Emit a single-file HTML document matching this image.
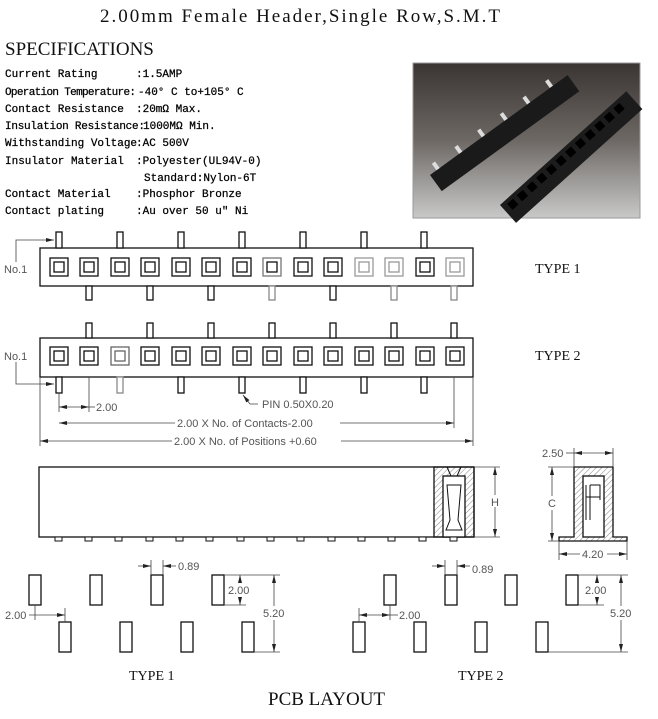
<!DOCTYPE html>
<html><head><meta charset="utf-8"><style>
html,body{margin:0;padding:0;background:#fff;width:658px;height:719px;overflow:hidden}
svg{display:block}
.s{font-family:"Liberation Mono",monospace;font-size:11px;fill:#000;stroke:#000;stroke-width:0.25}
.d{font-family:"Liberation Sans",sans-serif;font-size:11px;fill:#555}
.t{font-family:"Liberation Serif",serif;fill:#111}
</style></head><body>
<svg width="658" height="719" viewBox="0 0 658 719" xmlns="http://www.w3.org/2000/svg">
<defs>
<linearGradient id="g" x1="0" y1="0" x2="0" y2="1"><stop offset="0" stop-color="#3a3532"/><stop offset="0.5" stop-color="#6d6864"/><stop offset="1" stop-color="#c9c9c9"/></linearGradient>
<pattern id="h" width="4" height="4" patternUnits="userSpaceOnUse" patternTransform="rotate(45)"><line x1="0" y1="0" x2="0" y2="4" stroke="#666" stroke-width="0.8"/></pattern>
<marker id="a" markerWidth="8" markerHeight="6" refX="8" refY="3" orient="auto-start-reverse" markerUnits="userSpaceOnUse"><path d="M0,1 L8,3 L0,5z" fill="#222"/></marker>
</defs>
<text x="300" y="22" class="t" font-size="19" text-anchor="middle" textLength="400">2.00mm Female Header,Single Row,S.M.T</text>
<text x="5" y="55" class="t" font-size="19">SPECIFICATIONS</text>
<g class="s">
<text x="5" y="77">Current Rating</text><text x="136" y="77">:1.5AMP</text>
<text x="5" y="95" textLength="131">Operation Temperature:</text><text x="138" y="95">-40° C to+105° C</text>
<text x="5" y="112">Contact Resistance</text><text x="136" y="112">:20mΩ Max.</text>
<text x="5" y="129" textLength="140">Insulation Resistance:</text><text x="143" y="129">1000MΩ Min.</text>
<text x="5" y="146">Withstanding Voltage</text><text x="136" y="146">:AC 500V</text>
<text x="5" y="164">Insulator Material</text><text x="136" y="164">:Polyester(UL94V-0)</text>
<text x="144" y="181">Standard:Nylon-6T</text>
<text x="5" y="197">Contact Material</text><text x="136" y="197">:Phosphor Bronze</text>
<text x="5" y="214">Contact plating</text><text x="136" y="214">:Au over 50 u" Ni</text>
</g>
<rect x="413" y="63" width="227" height="155" fill="url(#g)" stroke="#999"/>
<g transform="translate(430,175) rotate(-36)"><rect x="0" y="0" width="170" height="20" fill="#1a1a1a"/><g fill="#ddd"><rect x="8" y="-8" width="4" height="8"/><rect x="36" y="-8" width="4" height="8"/><rect x="64" y="-8" width="4" height="8"/><rect x="92" y="-8" width="4" height="8"/><rect x="120" y="-8" width="4" height="8"/><rect x="148" y="-8" width="4" height="8"/></g></g>
<g transform="translate(500,205) rotate(-42)"><rect x="0" y="0" width="170" height="24" fill="#1c1c1c"/><g fill="#000"><rect x="6" y="4" width="8" height="8"/><rect x="19" y="4" width="8" height="8"/><rect x="32" y="4" width="8" height="8"/><rect x="45" y="4" width="8" height="8"/><rect x="58" y="4" width="8" height="8"/><rect x="71" y="4" width="8" height="8"/><rect x="84" y="4" width="8" height="8"/><rect x="97" y="4" width="8" height="8"/><rect x="110" y="4" width="8" height="8"/><rect x="123" y="4" width="8" height="8"/><rect x="136" y="4" width="8" height="8"/><rect x="149" y="4" width="8" height="8"/></g></g>

<g fill="#fff" stroke="#111" stroke-width="1.3">
<rect x="40" y="248" width="433" height="38"/>
<g><rect x="56" y="232" width="6" height="16"/><rect x="117" y="232" width="6" height="16"/><rect x="178" y="232" width="6" height="16"/><rect x="239" y="232" width="6" height="16"/><rect x="300" y="232" width="6" height="16"/><rect x="361" y="232" width="6" height="16"/><rect x="421" y="232" width="6" height="16"/></g>
<g><rect x="86" y="286" width="6" height="14"/><rect x="147" y="286" width="6" height="14"/><rect x="208" y="286" width="6" height="14"/><rect x="269" y="286" width="6" height="14" stroke="#888"/><rect x="330" y="286" width="6" height="14"/><rect x="391" y="286" width="6" height="14" stroke="#888"/><rect x="451" y="286" width="6" height="14" stroke="#888"/></g>
<rect x="40" y="338" width="433" height="39"/>
<g><rect x="86" y="323" width="6" height="15"/><rect x="147" y="323" width="6" height="15"/><rect x="208" y="323" width="6" height="15"/><rect x="269" y="323" width="6" height="15"/><rect x="330" y="323" width="6" height="15"/><rect x="391" y="323" width="6" height="15"/><rect x="451" y="323" width="6" height="15"/></g>
<g><rect x="56" y="377" width="6" height="16"/><rect x="117" y="377" width="6" height="16" stroke="#888"/><rect x="178" y="377" width="6" height="16"/><rect x="239" y="377" width="6" height="16"/><rect x="300" y="377" width="6" height="16"/><rect x="361" y="377" width="6" height="16"/><rect x="421" y="377" width="6" height="16"/></g>
</g>
<g fill="none" stroke="#111" stroke-width="1.3">
<rect x="50" y="258" width="18" height="18"/><rect x="54" y="262" width="10" height="10"/>
<rect x="80" y="258" width="18" height="18"/><rect x="84" y="262" width="10" height="10"/>
<rect x="111" y="258" width="18" height="18"/><rect x="115" y="262" width="10" height="10"/>
<rect x="141" y="258" width="18" height="18"/><rect x="145" y="262" width="10" height="10"/>
<rect x="172" y="258" width="18" height="18"/><rect x="176" y="262" width="10" height="10"/>
<rect x="202" y="258" width="18" height="18"/><rect x="206" y="262" width="10" height="10"/>
<rect x="233" y="258" width="18" height="18"/><rect x="237" y="262" width="10" height="10"/>
<rect x="263" y="258" width="18" height="18" stroke="#777"/><rect x="267" y="262" width="10" height="10"/>
<rect x="294" y="258" width="18" height="18"/><rect x="298" y="262" width="10" height="10"/>
<rect x="324" y="258" width="18" height="18"/><rect x="328" y="262" width="10" height="10"/>
<rect x="355" y="258" width="18" height="18" stroke="#999"/><rect x="359" y="262" width="10" height="10" stroke="#999"/>
<rect x="385" y="258" width="18" height="18" stroke="#999"/><rect x="389" y="262" width="10" height="10" stroke="#999"/>
<rect x="416" y="258" width="18" height="18"/><rect x="420" y="262" width="10" height="10"/>
<rect x="446" y="258" width="18" height="18" stroke="#999"/><rect x="450" y="262" width="10" height="10" stroke="#999"/>
</g>
<g fill="none" stroke="#111" stroke-width="1.3">
<rect x="50" y="347" width="18" height="18"/><rect x="54" y="351" width="10" height="10"/>
<rect x="80" y="347" width="18" height="18"/><rect x="84" y="351" width="10" height="10"/>
<rect x="111" y="347" width="18" height="18" stroke="#666"/><rect x="115" y="351" width="10" height="10" stroke="#666"/>
<rect x="141" y="347" width="18" height="18"/><rect x="145" y="351" width="10" height="10"/>
<rect x="172" y="347" width="18" height="18"/><rect x="176" y="351" width="10" height="10"/>
<rect x="202" y="347" width="18" height="18"/><rect x="206" y="351" width="10" height="10"/>
<rect x="233" y="347" width="18" height="18"/><rect x="237" y="351" width="10" height="10"/>
<rect x="263" y="347" width="18" height="18"/><rect x="267" y="351" width="10" height="10"/>
<rect x="294" y="347" width="18" height="18"/><rect x="298" y="351" width="10" height="10"/>
<rect x="324" y="347" width="18" height="18"/><rect x="328" y="351" width="10" height="10"/>
<rect x="355" y="347" width="18" height="18"/><rect x="359" y="351" width="10" height="10"/>
<rect x="385" y="347" width="18" height="18"/><rect x="389" y="351" width="10" height="10"/>
<rect x="416" y="347" width="18" height="18"/><rect x="420" y="351" width="10" height="10"/>
<rect x="446" y="347" width="18" height="18"/><rect x="450" y="351" width="10" height="10"/>
</g>
<g class="d" font-size="13" fill="#777"><text x="4" y="273">No.1</text><text x="4" y="360">No.1</text></g>
<g fill="none" stroke="#444" stroke-width="0.8">
<polyline points="16,262 16,240 54,240" marker-end="url(#a)"/>
<polyline points="16,362 16,384 54,384" marker-end="url(#a)"/>
<line x1="59" y1="393" x2="59" y2="412"/><line x1="89" y1="377" x2="89" y2="412"/>
<line x1="59" y1="407" x2="89" y2="407" marker-start="url(#a)" marker-end="url(#a)"/>
<line x1="89" y1="407" x2="95" y2="407"/>
<line x1="454" y1="377" x2="454" y2="428"/>
<line x1="59" y1="423" x2="175" y2="423" marker-start="url(#a)"/><line x1="340" y1="423" x2="454" y2="423" marker-end="url(#a)"/>
<line x1="40" y1="377" x2="40" y2="446"/><line x1="473" y1="377" x2="473" y2="446"/>
<line x1="40" y1="441" x2="172" y2="441" marker-start="url(#a)"/><line x1="341" y1="441" x2="473" y2="441" marker-end="url(#a)"/>
<polyline points="258,404 250,404 243,395" marker-end="url(#a)"/>
</g>
<g class="d" font-size="11"><text x="96" y="411">2.00</text><text x="262" y="408">PIN 0.50X0.20</text>
<text x="177" y="427">2.00 X No. of Contacts-2.00</text><text x="174" y="445">2.00 X No. of Positions +0.60</text></g>
<g class="t" font-size="14"><text x="535" y="273">TYPE 1</text><text x="535" y="360">TYPE 2</text></g>

<g stroke="#111" stroke-width="1.3" fill="#fff">
<rect x="39" y="467" width="435" height="70"/>
<rect x="434" y="467" width="40" height="70" fill="url(#h)"/>
<rect x="443" y="476" width="22" height="61"/>
<path d="M447,485 L461,485 L458,520 L462,530 L446,530 L450,520z" fill="none" stroke-width="1"/>
<path d="M447,467 L451,476 L457,476 L461,467" fill="none" stroke-width="1"/>
</g>
<g fill="#fff" stroke="#111" stroke-width="1"><rect x="55" y="537" width="7" height="4"/><rect x="85" y="537" width="7" height="4"/><rect x="115" y="537" width="7" height="4"/><rect x="146" y="537" width="7" height="4"/><rect x="176" y="537" width="7" height="4"/><rect x="206" y="537" width="7" height="4"/><rect x="237" y="537" width="7" height="4"/><rect x="267" y="537" width="7" height="4"/><rect x="297" y="537" width="7" height="4"/><rect x="328" y="537" width="7" height="4"/><rect x="358" y="537" width="7" height="4"/><rect x="388" y="537" width="7" height="4"/><rect x="419" y="537" width="7" height="4"/><rect x="450" y="537" width="7" height="4"/></g>
<g fill="none" stroke="#444" stroke-width="0.8">
<line x1="474" y1="467" x2="500" y2="467"/><line x1="474" y1="537" x2="500" y2="537"/>
<line x1="495" y1="467" x2="495" y2="495" marker-start="url(#a)"/><line x1="495" y1="507" x2="495" y2="537" marker-end="url(#a)"/>
</g>
<text x="491" y="506" class="d">H</text>
<g stroke="#111" stroke-width="1.3">
<path d="M559,541 L559,537 L574,537 L574,467 L613,467 L613,537 L627,537 L627,541 L597,541 Z" fill="url(#h)"/>
<rect x="583" y="476" width="21" height="61" fill="#fff"/>
<path d="M586,485 L586,520 M590,485 L600,485 L600,500 M590,485 L590,520 M586,497 L600,497" fill="none" stroke-width="1"/>
</g>
<g fill="none" stroke="#444" stroke-width="0.8">
<line x1="574" y1="448" x2="574" y2="467"/><line x1="613" y1="448" x2="613" y2="467"/>
<line x1="574" y1="453" x2="613" y2="453" marker-start="url(#a)" marker-end="url(#a)"/><line x1="566" y1="453" x2="574" y2="453"/>
<line x1="548" y1="467" x2="574" y2="467"/><line x1="548" y1="541" x2="559" y2="541"/>
<line x1="552" y1="467" x2="552" y2="496" marker-start="url(#a)"/><line x1="552" y1="510" x2="552" y2="541" marker-end="url(#a)"/>
<line x1="559" y1="541" x2="559" y2="560"/><line x1="627" y1="541" x2="627" y2="560"/>
<line x1="559" y1="554" x2="580" y2="554" marker-start="url(#a)"/><line x1="607" y1="554" x2="627" y2="554" marker-end="url(#a)"/>
</g>
<g class="d"><text x="542" y="457">2.50</text><text x="548" y="507">C</text><text x="582" y="558">4.20</text></g>

<g fill="#fff" stroke="#111" stroke-width="1.3">
<rect x="29" y="575" width="12" height="30"/><rect x="90" y="575" width="12" height="30"/><rect x="151" y="575" width="12" height="30"/><rect x="212" y="575" width="12" height="30"/>
<rect x="59" y="622" width="12" height="30"/><rect x="120" y="622" width="12" height="30"/><rect x="181" y="622" width="12" height="30"/><rect x="242" y="622" width="12" height="30"/>
<rect x="384" y="575" width="12" height="30"/><rect x="445" y="575" width="12" height="30"/><rect x="505" y="575" width="12" height="30"/><rect x="566" y="575" width="12" height="30"/>
<rect x="353" y="622" width="12" height="30"/><rect x="414" y="622" width="12" height="30"/><rect x="475" y="622" width="12" height="30"/><rect x="536" y="622" width="12" height="30"/>
</g>
<g fill="none" stroke="#444" stroke-width="0.8">
<line x1="151" y1="560" x2="151" y2="575"/><line x1="163" y1="560" x2="163" y2="575"/>
<line x1="138" y1="566" x2="151" y2="566" marker-end="url(#a)"/><line x1="176" y1="566" x2="163" y2="566" marker-end="url(#a)"/>
<line x1="224" y1="575" x2="280" y2="575"/><line x1="224" y1="605" x2="246" y2="605"/><line x1="254" y1="652" x2="280" y2="652"/>
<line x1="240" y1="575" x2="240" y2="583" marker-start="url(#a)"/><line x1="240" y1="597" x2="240" y2="605" marker-end="url(#a)"/>
<line x1="274" y1="575" x2="274" y2="606" marker-start="url(#a)"/><line x1="274" y1="620" x2="274" y2="652" marker-end="url(#a)"/>
<line x1="35" y1="605" x2="35" y2="620"/><line x1="65" y1="608" x2="65" y2="622"/>
<line x1="29" y1="615" x2="65" y2="615" marker-end="url(#a)"/>
<line x1="445" y1="560" x2="445" y2="575"/><line x1="457" y1="560" x2="457" y2="575"/>
<line x1="432" y1="566" x2="445" y2="566" marker-end="url(#a)"/><line x1="470" y1="566" x2="457" y2="566" marker-end="url(#a)"/>
<line x1="578" y1="575" x2="628" y2="575"/><line x1="578" y1="605" x2="604" y2="605"/><line x1="548" y1="652" x2="628" y2="652"/>
<line x1="597" y1="575" x2="597" y2="583" marker-start="url(#a)"/><line x1="597" y1="597" x2="597" y2="605" marker-end="url(#a)"/>
<line x1="621" y1="575" x2="621" y2="606" marker-start="url(#a)"/><line x1="621" y1="620" x2="621" y2="652" marker-end="url(#a)"/>
<line x1="359" y1="608" x2="359" y2="622"/><line x1="390" y1="605" x2="390" y2="620"/>
<line x1="359" y1="615" x2="390" y2="615" marker-start="url(#a)" marker-end="url(#a)"/><line x1="390" y1="615" x2="398" y2="615"/>
</g>
<g class="d"><text x="178" y="570">0.89</text><text x="228" y="594">2.00</text><text x="263" y="617">5.20</text><text x="5" y="619">2.00</text>
<text x="472" y="573">0.89</text><text x="585" y="594">2.00</text><text x="610" y="617">5.20</text><text x="399" y="619">2.00</text></g>
<g class="t" font-size="14"><text x="129" y="680">TYPE 1</text><text x="458" y="680">TYPE 2</text></g>
<text x="268" y="705" class="t" font-size="19">PCB LAYOUT</text>
</svg>
</body></html>
